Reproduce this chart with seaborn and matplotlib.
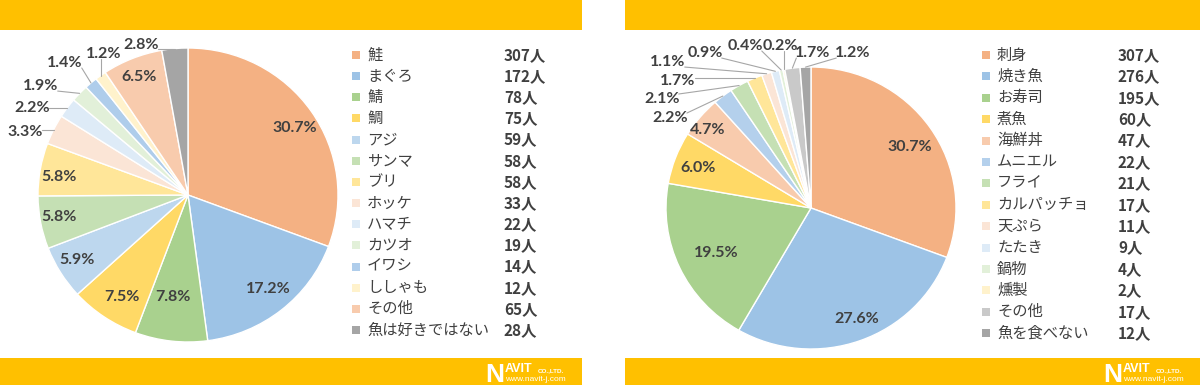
import matplotlib
matplotlib.use("Agg")
import matplotlib.pyplot as plt
import seaborn as sns
import numpy as np
from matplotlib.patches import Rectangle

# ---------------- data ----------------
fish_names = ["鮭", "まぐろ", "鯖", "鯛", "アジ", "サンマ", "ブリ", "ホッケ",
              "ハマチ", "カツオ", "イワシ", "ししゃも", "その他", "魚は好きではない"]
fish_counts = [307, 172, 78, 75, 59, 58, 58, 33, 22, 19, 14, 12, 65, 28]

dish_names = ["刺身", "焼き魚", "お寿司", "煮魚", "海鮮丼", "ムニエル", "フライ",
              "カルパッチョ", "天ぷら", "たたき", "鍋物", "燻製", "その他", "魚を食べない"]
dish_counts = [307, 276, 195, 60, 47, 22, 21, 17, 11, 9, 4, 2, 17, 12]

# ---------------- style ----------------
sns.set_theme(style="white")
plt.rcParams["font.family"] = ["Noto Sans CJK JP", "DejaVu Sans"]

fish_colors = sns.color_palette(["#F4B183", "#9DC3E6", "#A9D18E", "#FFD966", "#BDD7EE",
                                 "#C5E0B4", "#FFE699", "#FBE5D6", "#DEEBF7", "#E2F0D9",
                                 "#AFCDEB", "#FFF2CC", "#F8CBAD", "#A5A5A5"])
dish_colors = sns.color_palette(["#F4B183", "#9DC3E6", "#A9D18E", "#FFD966", "#F8CBAD",
                                 "#B4D0EC", "#C5E0B4", "#FFE699", "#FBE5D6", "#DEEBF7",
                                 "#E2F0D9", "#FFF2CC", "#C9C9C9", "#A5A5A5"])

# label placement (pie radius units, relative to pie centre) - layout only
fish_label_pos = [(0.713, 0.456), (0.533, -0.639), (-0.100, -0.694), (-0.44, -0.694),
                  (-0.74, -0.442), (-0.86, -0.150), (-0.86, 0.122), (-1.087, 0.429),
                  (-1.04, 0.592), (-0.98, 0.741), (-0.82, 0.898), (-0.56, 0.959),
                  (-0.327, 0.803), (-0.313, 1.020)]
dish_label_pos = [(0.683, 0.433), (0.317, -0.787), (-0.655, -0.319), (-0.779, 0.284),
                  (-0.710, 0.553), (-0.972, 0.638), (-1.028, 0.773), (-0.917, 0.901),
                  (-0.986, 1.035), (-0.731, 1.099), (-0.455, 1.149), (-0.214, 1.149),
                  (0.014, 1.099), (0.290, 1.099)]

W, H = 1200, 387
GOLD = "#FFC000"
TXT = "#404040"

fig = plt.figure(figsize=(W / 100, H / 100), dpi=100)
fig.patch.set_facecolor("white")
bg = fig.add_axes([0, 0, 1, 1], zorder=0)
bg.set_xlim(0, W)
bg.set_ylim(H, 0)
bg.axis("off")

# yellow bands
for x0, x1 in [(0, 582), (625, 1200)]:
    bg.add_patch(Rectangle((x0, 0), x1 - x0, 30, color=GOLD, lw=0))
    bg.add_patch(Rectangle((x0, 358), x1 - x0, 27, color=GOLD, lw=0))


def logo(xr):
    lf = ["Liberation Sans", "DejaVu Sans"]
    bg.text(xr - 97, 382, "N", fontsize=19, weight="bold", color="white",
            family=lf, va="baseline", ha="left")
    bg.text(xr - 77, 372, "AVIT", fontsize=9, weight="bold", color="white",
            family=lf, va="baseline", ha="left")
    bg.text(xr - 44, 372, "CO.,LTD.", fontsize=4.5, weight="bold", color="white",
            family=lf, va="baseline", ha="left")
    bg.text(xr - 77, 381, "www.navit-j.com", fontsize=6, color="white",
            family=lf, va="baseline", ha="left")


logo(582)
logo(1200)


def legend(x_sq, x_name, x_cnt, y0, dy, names, counts, colors):
    for i, (n, c, col) in enumerate(zip(names, counts, colors)):
        y = y0 + i * dy
        bg.add_patch(Rectangle((x_sq - 4, y - 4), 8, 8, color=col, lw=0))
        bg.text(x_name, y, n, va="center", ha="left", fontsize=11, color=TXT)
        bg.text(x_cnt, y, f"{c}人", va="center", ha="left", fontsize=11,
                weight="bold", color=TXT)


legend(356, 367, 504, 55, 21.15, fish_names, fish_counts, fish_colors)
legend(986, 997, 1118, 55, 21.4, dish_names, dish_counts, dish_colors)


def pie_panel(cx, cy, rx, ry, box, counts, colors, label_pos):
    x0, y0, x1, y1 = box
    ax = fig.add_axes([x0 / W, 1 - y1 / H, (x1 - x0) / W, (y1 - y0) / H], zorder=1)
    wedges, _ = ax.pie(counts, colors=colors, startangle=90, counterclock=False,
                       wedgeprops=dict(edgecolor="white", linewidth=1.0))
    ax.set_aspect("auto")
    ax.set_xlim((x0 - cx) / rx, (x1 - cx) / rx)
    ax.set_ylim((cy - y1) / ry, (cy - y0) / ry)
    ax.axis("off")
    total = sum(counts)
    texts = []
    for c, (px, py) in zip(counts, label_pos):
        t = ax.text(px, py, f"{c / total * 100:.1f}%", ha="center", va="center",
                    fontsize=11.5, weight="bold", color=TXT,
                    family=["Lato", "DejaVu Sans"], zorder=5)
        texts.append(t)
    return ax, wedges, texts


panels = [
    pie_panel(188, 195, 150, 147, (0, 30, 345, 358), fish_counts, fish_colors, fish_label_pos),
    pie_panel(811, 208, 145, 141, (625, 30, 975, 358), dish_counts, dish_colors, dish_label_pos),
]

fig.canvas.draw()
renderer = fig.canvas.get_renderer()
for ax, wedges, texts in panels:
    inv = ax.transData.inverted()
    for w, t in zip(wedges, texts):
        px, py = t.get_position()
        if np.hypot(px, py) <= 1.0:
            continue
        th = np.deg2rad((w.theta1 + w.theta2) / 2)
        tgt = ax.transData.transform((np.cos(th), np.sin(th)))
        bb = t.get_window_extent(renderer)
        sx = np.clip(tgt[0], bb.x0 + 1, bb.x1 - 1)
        sy = np.clip(tgt[1], bb.y0 + 2, bb.y1 - 2)
        if np.hypot(tgt[0] - sx, tgt[1] - sy) < 10:
            continue
        p0 = inv.transform((sx, sy))
        p1 = inv.transform(tgt)
        ax.plot([p0[0], p1[0]], [p0[1], p1[1]], color="#A6A6A6", lw=0.8, zorder=4)

fig.savefig("out.png", dpi=100)
